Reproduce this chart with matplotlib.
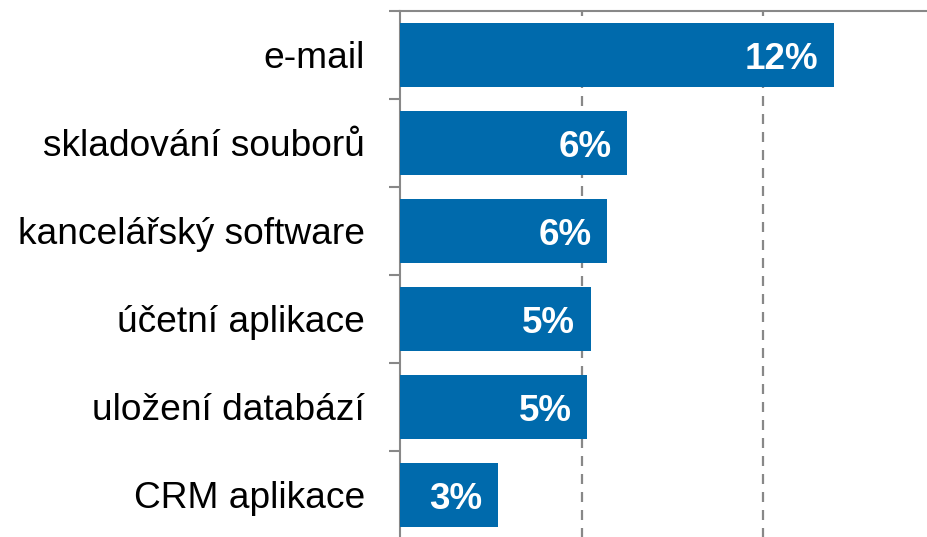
import matplotlib
matplotlib.use("Agg")
import matplotlib.pyplot as plt
import numpy as np

categories = ["e-mail", "skladování souborů", "kancelářský software",
              "účetní aplikace", "uložení databází", "CRM aplikace"]
values = [11.95, 6.26, 5.71, 5.25, 5.16, 2.69]
labels = ["12%", "6%", "6%", "5%", "5%", "3%"]

plt.rcParams['font.family'] = ['Liberation Sans', 'DejaVu Sans']

W, H = 928, 537
fig = plt.figure(figsize=(W / 100, H / 100), dpi=100)
left, right, top, bottom = 400, 945, 11, 539
ax = fig.add_axes([left / W, (H - bottom) / H, (right - left) / W, (bottom - top) / H])

y = np.arange(len(categories))
bar_color = "#006AAC"
ax.barh(y, values, height=0.727, color=bar_color, zorder=3)

ax.set_xlim(0, 15)
ax.set_ylim(len(categories) - 0.5, -0.5)

for xv in [5, 10]:
    ax.axvline(xv, color="#888888", lw=1.6, ls=(0, (4.5, 3.6)), zorder=1)

for yi, v, lab in zip(y, values, labels):
    ax.text(v - 0.43, yi + 0.155, lab, ha="right", va="baseline", color="white",
            fontsize=26.5, fontweight="bold", zorder=4)

ax.set_yticks(y)
ax.set_yticklabels(categories, fontsize=26.75)
ax.set_yticks(np.arange(-0.5, len(categories) + 0.5, 1), minor=True)
ax.tick_params(axis="y", which="major", length=0, pad=35 * 0.72)
ax.tick_params(axis="y", which="minor", length=8, width=1.5, color="#888888", direction="out")
ax.set_xticks([])

for s in ["right", "bottom"]:
    ax.spines[s].set_visible(False)
for s in ["left", "top"]:
    ax.spines[s].set_color("#888888")
    ax.spines[s].set_linewidth(1.5)

fig.savefig("out.png", dpi=100)
